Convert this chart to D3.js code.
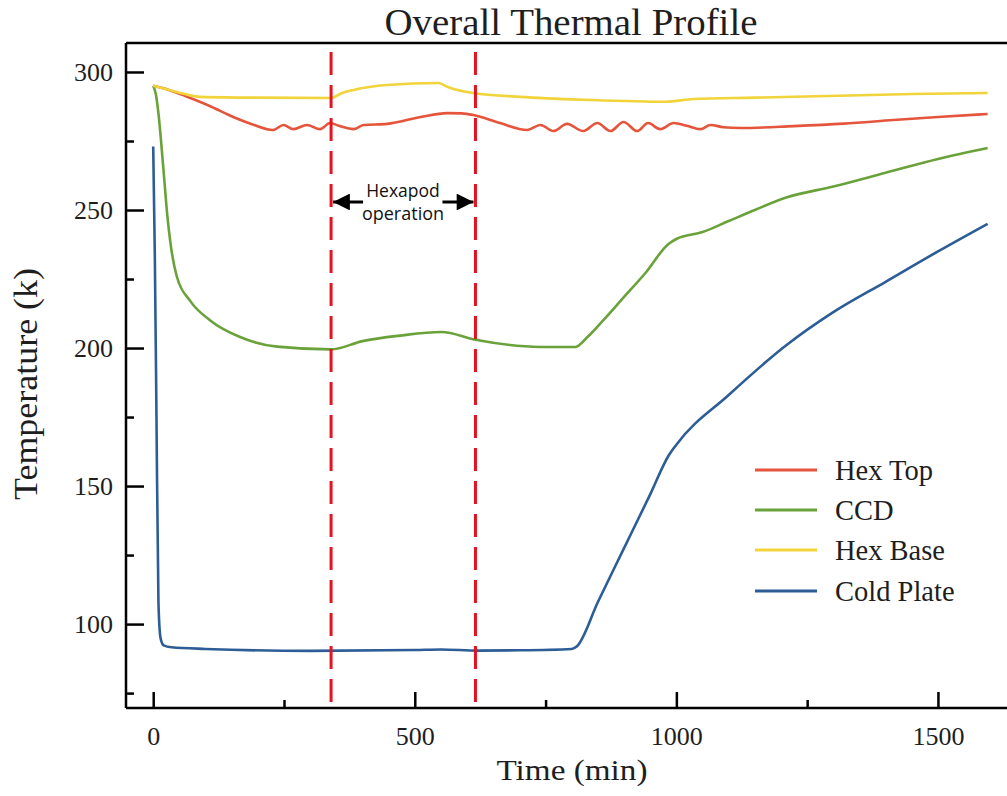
<!DOCTYPE html>
<html><head><meta charset="utf-8">
<script src="https://cdn.jsdelivr.net/npm/d3@7"></script>
<style>html,body{margin:0;padding:0;background:#fff;}svg{display:block;}</style>
</head><body>
<svg id="chart" width="1007" height="796"></svg>
<script>
// ---- data ----
const seriesNames = ["Hex Top", "CCD", "Hex Base", "Cold Plate"];
const hexTopT = [0,30,65,110,153,190,229,249,268,294,319,338,355,383,402,447,511,562,590,612,663,715,740,765,791,822,849,874,899,925,946,969,995,1020,1046,1065,1090,1122,1224,1320,1415,1500,1595];
const hexTopV = [295,293.5,291,287.5,283.7,281,279,280.8,279.3,280.8,279.3,281.5,280.5,279.3,280.8,281.2,283.7,285.1,285,284.4,281.5,279,280.8,278.6,281.2,278.6,281.5,278.6,281.9,278.6,281.5,279.3,281.5,280.5,279.3,280.8,280,279.7,280.4,281.3,282.6,283.7,284.8];
const ccdT = [0,5,10,19,27,33,45,71,109,166,237,340,400,472,551,616,740,807,830,860,900,940,985,1000,1050,1100,1150,1210,1300,1400,1500,1595];
const ccdV = [295,292,285,266,248,238,226,217,210,204,200.5,199.5,202.5,204.5,205.8,203,200.4,200.4,204,210,218.5,227,237.7,239.5,242,246,250,254.5,258.5,263.5,268.5,272.5];
const hexBaseT = [0,30,60,90,200,340,360,383,447,545,560,574,612,702,830,980,1033,1150,1289,1450,1595];
const hexBaseV = [295,293.5,292,291,290.7,290.6,292.3,293.5,295.3,296,294.8,293.8,292.4,291,289.9,289.2,290.2,290.7,291.3,292,292.4];
const coldT = [0,3,6,10,14,20,35,100,300,500,550,620,700,800,810,850,900,950,985,1000,1100,1210,1300,1400,1500,1595];
const coldV = [273,235,180,108,95,92.3,91.6,91,90.3,90.6,90.8,90.4,90.5,91,92,108,127.5,147,161,165,183,201,213,224,235,245];
const hexapodStart = 340, hexapodEnd = 616;
const xTicksMajor = [0,500,1000,1500];
const xTicksMinor = [250,750,1250];
const yTicksMajor = [100,150,200,250,300];
const yTicksMinor = [75,125,175,225,275];
const colors = ["#e5553c", "#6aa23a", "#f1d33a", "#2d5d96"];

const series = [
  {name: seriesNames[0], t: hexTopT, v: hexTopV},
  {name: seriesNames[1], t: ccdT, v: ccdV},
  {name: seriesNames[2], t: hexBaseT, v: hexBaseV},
  {name: seriesNames[3], t: coldT, v: coldV}
];

const svg = d3.select("#chart");
const L = 126, R = 1007, T = 43, B = 708;
const x = d3.scaleLinear().domain([-52, 1632]).range([L, R]);
const y = d3.scaleLinear().domain([69.6, 310.5]).range([B, T]);
const serif = "'Liberation Serif','Times New Roman',serif";
const ink = "#1e1e1e";

const defs = svg.append("defs");
defs.append("clipPath").attr("id","clip")
  .append("rect").attr("x",L).attr("y",T).attr("width",R-L).attr("height",B-T);

// series lines
const line = d3.line().x(d => x(d[0])).y(d => y(d[1])).curve(d3.curveMonotoneX);
const g = svg.append("g").attr("clip-path","url(#clip)");
series.forEach((s,i) => {
  g.append("path")
    .attr("d", line(s.t.map((t,j) => [t, s.v[j]])))
    .attr("fill","none").attr("stroke", colors[i]).attr("stroke-width", 2.6)
    .attr("stroke-linejoin","round");
});

// hexapod dashed lines
[hexapodStart, hexapodEnd].forEach(t => {
  svg.append("line").attr("x1", x(t)).attr("x2", x(t)).attr("y1", 702).attr("y2", T)
    .attr("stroke", "#e3141f").attr("stroke-width", 3).attr("stroke-dasharray", "23,10");
});

// annotation
const ay = 202;
defs.append("marker").attr("id","ah").attr("viewBox","0 0 10 10").attr("refX",10).attr("refY",5)
  .attr("markerWidth",6).attr("markerHeight",5.6).attr("orient","auto-start-reverse")
  .attr("markerUnits","strokeWidth")
  .append("path").attr("d","M0,0 L10,5 L0,10 z").attr("fill","#000");
svg.append("line").attr("x1", x(hexapodStart)+2).attr("x2", x(hexapodStart)+32).attr("y1", ay).attr("y2", ay)
  .attr("stroke","#000").attr("stroke-width",3).attr("marker-start","url(#ah)");
svg.append("line").attr("x1", x(hexapodEnd)-33).attr("x2", x(hexapodEnd)-2).attr("y1", ay).attr("y2", ay)
  .attr("stroke","#000").attr("stroke-width",3).attr("marker-end","url(#ah)");
const mid = 403;
svg.append("text").attr("x", mid).attr("y", 197).attr("text-anchor","middle")
  .attr("font-family","'Open Sans',sans-serif").attr("font-size",17.5).attr("fill","#111").text("Hexapod");
svg.append("text").attr("x", mid).attr("y", 220).attr("text-anchor","middle")
  .attr("font-family","'Open Sans',sans-serif").attr("font-size",18).attr("fill","#111").text("operation");

// frame
svg.append("line").attr("x1",L).attr("x2",R).attr("y1",T).attr("y2",T).attr("stroke","#000").attr("stroke-width",2.5);

// axes
const xAxis = svg.append("g").attr("transform",`translate(0,${B})`)
  .call(d3.axisBottom(x).tickValues(xTicksMajor).tickSize(-16).tickPadding(19).tickFormat(d3.format("d")));
const yAxis = svg.append("g").attr("transform",`translate(${L},0)`)
  .call(d3.axisLeft(y).tickValues(yTicksMajor).tickSize(-18).tickPadding(13).tickFormat(d3.format("d")));
[xAxis, yAxis].forEach(a => {
  a.select(".domain").attr("stroke","#000").attr("stroke-width",2.5);
  a.selectAll(".tick line").attr("stroke","#000").attr("stroke-width",2.5);
  a.selectAll(".tick text").attr("font-family",serif).attr("font-size",26).attr("fill",ink);
});
xAxis.select(".domain").attr("d", `M${L},0H${R}`);
yAxis.select(".domain").attr("d", `M0,${T}V${B}`);
svg.append("g").attr("transform",`translate(0,${B})`)
  .call(d3.axisBottom(x).tickValues(xTicksMinor).tickSize(-8).tickFormat(""))
  .call(a => { a.select(".domain").remove(); a.selectAll("line").attr("stroke","#000").attr("stroke-width",2.5); });
svg.append("g").attr("transform",`translate(${L},0)`)
  .call(d3.axisLeft(y).tickValues(yTicksMinor).tickSize(-8).tickFormat(""))
  .call(a => { a.select(".domain").remove(); a.selectAll("line").attr("stroke","#000").attr("stroke-width",2.5); });

// titles
svg.append("text").attr("x",571).attr("y",35).attr("text-anchor","middle")
  .attr("font-family",serif).attr("font-size",37).attr("fill",ink)
  .attr("textLength",373).attr("lengthAdjust","spacingAndGlyphs").text("Overall Thermal Profile");
svg.append("text").attr("x",572).attr("y",780).attr("text-anchor","middle")
  .attr("font-family",serif).attr("font-size",30).attr("fill",ink)
  .attr("textLength",151).attr("lengthAdjust","spacingAndGlyphs").text("Time (min)");
svg.append("text").attr("transform","translate(37,384) rotate(-90)").attr("text-anchor","middle")
  .attr("font-family",serif).attr("font-size",33).attr("fill",ink)
  .attr("textLength",232).attr("lengthAdjust","spacingAndGlyphs").text("Temperature (k)");

// legend
const legY = [470, 510, 550, 591];
series.forEach((s,i) => {
  svg.append("line").attr("x1",755).attr("x2",817).attr("y1",legY[i]).attr("y2",legY[i])
    .attr("stroke",colors[i]).attr("stroke-width",3);
  svg.append("text").attr("x",835).attr("y",legY[i]+10).attr("font-family",serif).attr("font-size",28.5)
    .attr("fill",ink).text(s.name);
});
</script>
</body></html>
